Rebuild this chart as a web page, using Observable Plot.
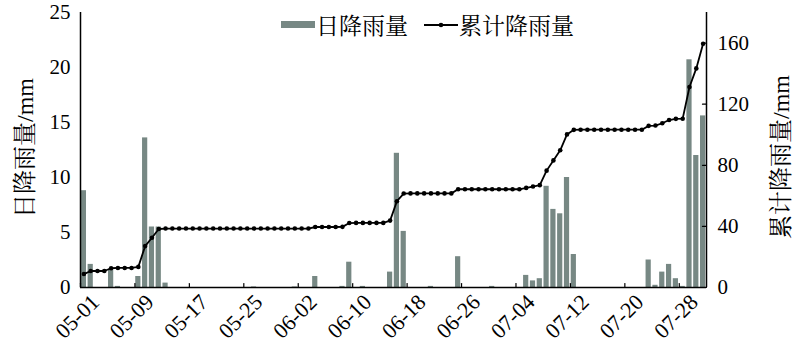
<!DOCTYPE html>
<html>
<head>
<meta charset="utf-8">
<script src="https://cdn.jsdelivr.net/npm/d3@7"></script>
<script src="https://cdn.jsdelivr.net/npm/@observablehq/plot@0.6"></script>
</head>
<body style="margin:0;background:#fff">
<div id="wrap" style="position:relative;width:800px;height:358px;background:#fff;color:#000;font-family:'Liberation Serif','Noto Serif CJK SC'"></div>
<script>
// ---- data ----
const startDay = "2021-05-01";
// daily rainfall, mm, 05-01 ... 07-31
const dailyRain = [
  8.8, 2.1, 0, 0, 1.6, 0.1, 0, 0, 1.0, 13.6,
  5.5, 5.5, 0.4, 0, 0, 0, 0, 0, 0, 0,
  0, 0, 0, 0, 0, 0.05, 0, 0, 0, 0,
  0, 0.05, 0, 0, 1.0, 0, 0, 0, 0.1, 2.3,
  0, 0.1, 0, 0, 0, 1.4, 12.2, 5.1, 0, 0,
  0, 0.1, 0, 0, 0, 2.8, 0, 0, 0, 0,
  0.1, 0, 0, 0, 0, 1.1, 0.6, 0.8, 9.2, 7.1,
  6.7, 10.0, 3.0, 0, 0, 0, 0, 0, 0, 0,
  0, 0, 0, 2.5, 0.2, 1.4, 2.1, 0.8, 0.1, 20.7,
  12.0, 15.6
];
// cumulative rainfall, mm, 05-01 ... 07-31
const cumRain = [
  8.8, 10.8, 10.8, 10.8, 12.6, 12.8, 12.8, 12.8, 13.5, 27.1,
  32.6, 38.3, 38.6, 38.6, 38.6, 38.6, 38.6, 38.6, 38.6, 38.6,
  38.6, 38.6, 38.6, 38.6, 38.6, 38.6, 38.6, 38.6, 38.6, 38.6,
  38.6, 38.6, 38.6, 38.6, 39.6, 39.6, 39.6, 39.6, 39.7, 42.2,
  42.3, 42.3, 42.3, 42.3, 42.3, 43.8, 56.5, 61.5, 61.6, 61.6,
  61.6, 61.6, 61.6, 61.6, 61.6, 64.3, 64.3, 64.3, 64.3, 64.3,
  64.3, 64.3, 64.3, 64.3, 64.3, 65.2, 66.1, 67.0, 76.5, 83.2,
  89.8, 100.2, 103.2, 103.3, 103.3, 103.3, 103.3, 103.3, 103.3, 103.3,
  103.3, 103.3, 103.3, 105.8, 106.0, 107.5, 109.6, 110.4, 110.5, 131.2,
  143.4, 159.5
];
const leftTicks = [0, 5, 10, 15, 20, 25];
const leftMax = 25;
const rightTicks = [0, 40, 80, 120, 160];
const rightMax = 180;
const xTickLabels = ["05-01", "05-09", "05-17", "05-25", "06-02", "06-10", "06-18", "06-26", "07-04", "07-12", "07-20", "07-28"];
const seriesNames = ["日降雨量", "累计降雨量"];
const axisTitles = ["日降雨量/mm", "累计降雨量/mm"];
const barColor = "#778884";

// ---- build ----
const FONT = "'Liberation Serif','Noto Serif CJK SC'";
const year = startDay.slice(0, 4);
const day0 = d3.utcParse("%Y-%m-%d")(startDay);
const data = dailyRain.map((v, i) => ({date: d3.utcDay.offset(day0, i), rain: v, cum: cumRain[i]}));
const xStart = day0;
const xEnd = d3.utcDay.offset(day0, dailyRain.length);
const xTicks = xTickLabels.map(s => d3.utcParse("%Y-%m-%d")(year + "-" + s));
const k = leftMax / rightMax;
const mid = d => d3.utcHour.offset(d.date, 12);
const tickShape = {draw(ctx, l) { ctx.moveTo(0, 0); ctx.lineTo(0, -l); }};

const chart = Plot.plot({
  width: 800,
  height: 358,
  marginLeft: 80,
  marginRight: 94,
  marginTop: 12,
  marginBottom: 71,
  style: {fontFamily: FONT, fontSize: "21px", color: "#000", background: "#fff"},
  x: {type: "utc", domain: [xStart, xEnd], axis: null},
  y: {domain: [0, leftMax], axis: null},
  marks: [
    Plot.rectY(data, {x1: "date", x2: d => d3.utcDay.offset(d.date, 1), y: "rain", fill: barColor, insetLeft: 0.8, insetRight: 0.8}),
    Plot.ruleY([0], {stroke: "#000", strokeWidth: 1.5}),
    Plot.ruleX([xStart, xEnd], {stroke: "#000", strokeWidth: 1.5}),
    Plot.vector(xTicks, {x: d => d, frameAnchor: "bottom", length: 4, shape: tickShape, anchor: "start", stroke: "#000", strokeWidth: 1.2}),
    Plot.vector(rightTicks, {y: d => d * k, frameAnchor: "right", length: 4, rotate: -90, shape: tickShape, anchor: "start", stroke: "#000", strokeWidth: 1.2}),
    Plot.line(data, {x: mid, y: d => d.cum * k, stroke: "#000", strokeWidth: 1.8}),
    Plot.dot(data, {x: mid, y: d => d.cum * k, r: 2.3, fill: "#000", stroke: null}),
    Plot.axisY(leftTicks, {anchor: "left", tickSize: 0, tickPadding: 10, label: null, fontFamily: FONT}),
    Plot.axisY(rightTicks, {anchor: "right", y: d => d * k, tickFormat: d => d, tickSize: 0, tickPadding: 11, label: null, fontFamily: FONT}),
    Plot.axisX(xTicks, {anchor: "bottom", tickSize: 0, tickPadding: 11, tickRotate: -45, tickFormat: d3.utcFormat("%m-%d"), label: null, dx: 15, fontFamily: FONT, fontSize: 22})
  ]
});

const wrap = document.getElementById("wrap");
wrap.appendChild(chart);

function addTitle(text, x, y) {
  const el = document.createElement("div");
  el.textContent = text;
  el.style.cssText = `position:absolute;left:${x}px;top:${y}px;white-space:nowrap;font-size:24px;font-family:${FONT};transform:translate(-50%,-50%) rotate(-90deg);`;
  wrap.appendChild(el);
}
addTitle(axisTitles[0], 22, 148);
addTitle(axisTitles[1], 778, 157);

// legend
const lg = document.createElement("div");
lg.style.cssText = `position:absolute;top:8px;left:281px;display:flex;align-items:center;font-size:23px;white-space:nowrap;font-family:${FONT};`;
lg.innerHTML =
  `<svg width="34" height="10" style="margin-right:1px"><rect x="0" y="1" width="34" height="7" fill="${barColor}"/></svg>` +
  `<span style="margin-right:16px">${seriesNames[0]}</span>` +
  `<svg width="34" height="10" style="margin-right:1px"><line x1="0" y1="5" x2="34" y2="5" stroke="#000" stroke-width="1.8"/><circle cx="17" cy="5" r="2.3" fill="#000"/></svg>` +
  `<span>${seriesNames[1]}</span>`;
wrap.appendChild(lg);
</script>
</body>
</html>
